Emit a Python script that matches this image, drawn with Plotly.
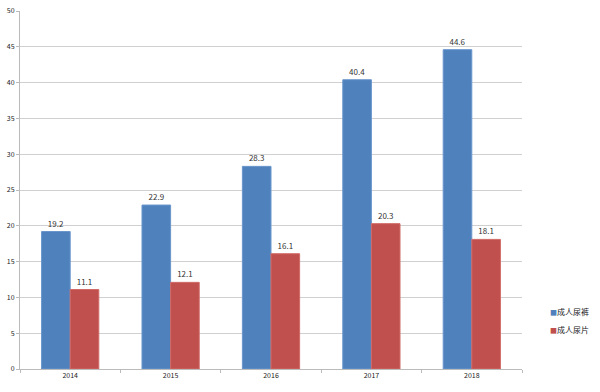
import plotly.graph_objects as go

years = ["2014", "2015", "2016", "2017", "2018"]
pants = [19.2, 22.9, 28.3, 40.4, 44.6]
pads = [11.1, 12.1, 16.1, 20.3, 18.1]
y_ticks = [0, 5, 10, 15, 20, 25, 30, 35, 40, 45, 50]
series_names = ["成人尿裤", "成人尿片"]
colors = ["#4F81BD", "#C0504D"]
edges = ["#6A96CC", "#D06A67"]

fig = go.Figure()
for name, vals, c, e in zip(series_names, [pants, pads], colors, edges):
    fig.add_trace(go.Bar(
        x=years, y=vals, name=name, showlegend=False,
        marker=dict(color=c, line=dict(color=e, width=1)),
        text=[f"{v:.1f}" for v in vals], textposition="outside",
        textfont=dict(size=8, color="#333333"), cliponaxis=False,
    ))

# legend drawn as text with coloured squares
for i, (name, c) in enumerate(zip(series_names, colors)):
    fig.add_annotation(
        xref="paper", yref="paper", x=1.052, y=0.16 - i * 0.05,
        xanchor="left", yanchor="middle", showarrow=False,
        text=f"<span style='color:{c};font-size:7px'>■</span>{name}",
        font=dict(size=8, color="#222222"),
    )

fig.update_layout(
    width=600, height=392,
    margin=dict(l=20, r=78, t=11, b=23, autoexpand=False),
    barmode="group", bargap=0.43, bargroupgap=0,
    plot_bgcolor="white", paper_bgcolor="white",
    font=dict(family="Noto Sans CJK SC, Liberation Sans, sans-serif", size=7, color="#444444"),
    showlegend=False,
    xaxis=dict(type="category", tickson="boundaries", ticks="outside", ticklen=3,
               tickcolor="#BBBBBB", showline=True, linecolor="#BBBBBB", linewidth=1,
               showgrid=False, automargin=False, tickfont=dict(size=7, color="#222222")),
    yaxis=dict(range=[0, 50], tickvals=y_ticks, ticks="outside", ticklen=3,
               tickcolor="#BBBBBB", showline=True, linecolor="#BBBBBB", linewidth=1,
               showgrid=True, gridcolor="#D0D0D0", gridwidth=1, zeroline=False,
               automargin=False, tickfont=dict(size=7, color="#222222")),
    uniformtext=dict(minsize=7, mode="show"),
)
fig.write_html("out.html",
               config={"displayModeBar": False},
               post_script="document.body.style.margin='0';document.body.style.overflow='hidden';")
